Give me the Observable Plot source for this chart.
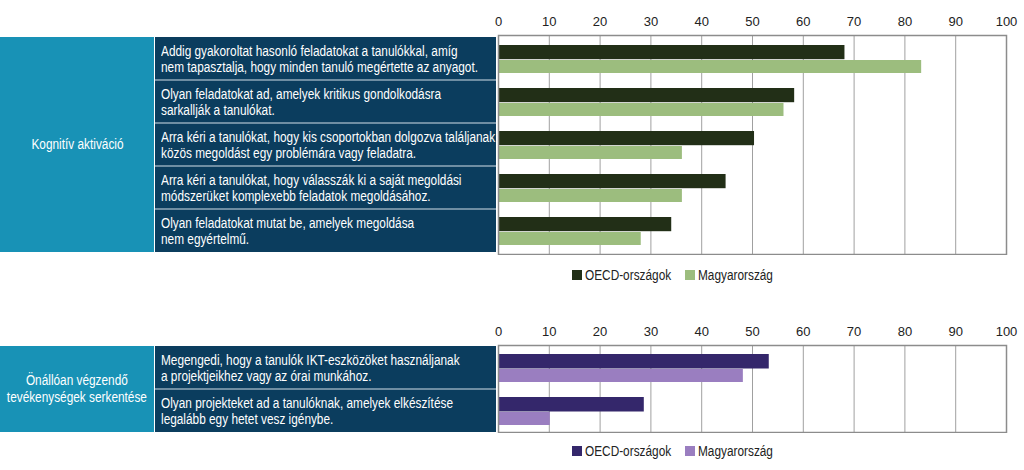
<!DOCTYPE html>
<html>
<head>
<meta charset="utf-8">
<script src="https://cdn.jsdelivr.net/npm/d3@7"></script>
<script src="https://cdn.jsdelivr.net/npm/@observablehq/plot@0.6"></script>
<style>
  html, body { margin: 0; padding: 0; background: #fff; }
  body { width: 1024px; height: 470px; overflow: hidden;
         font-family: "Liberation Sans", Arial, sans-serif; }
  .panel { position: relative; width: 1024px; }
  .panel svg { display: block; }
  .grp { position: absolute; left: 0; width: 154px; background: #1892b6; color: #fff;
         display: flex; align-items: center; justify-content: center; text-align: center;
         font-size: 14px; line-height: 17px; box-sizing: border-box; overflow: visible; }
  .grp span { display: inline-block; white-space: pre; transform: scaleX(0.845); transform-origin: center; }
  .cell { position: absolute; left: 155px; width: 341px; background: #0b3d5e; color: #fff;
          display: flex; align-items: center; padding-left: 6px; box-sizing: border-box;
          font-size: 14px; line-height: 16px; overflow: visible; }
  .cell span { display: inline-block; white-space: pre; transform: scaleX(0.845); transform-origin: left center; }
  .cell.sep { border-top: 2px solid #6f8ea3; }
  .legend { position: relative; height: 20px; font-size: 14px; color: #222; }
  .legend span.item { position: absolute; top: 0; display: flex; align-items: center; height: 20px; }
  .legend i { display: inline-block; width: 10px; height: 10px; margin-right: 3px; }
  .legend b { font-weight: normal; display: inline-block; white-space: pre; transform: scaleX(0.845); transform-origin: left center; }
</style>
</head>
<body>
<div id="root"></div>
<script>
// ---- data ----
const series = ["OECD-országok", "Magyarország"];
const xTicks = [0, 10, 20, 30, 40, 50, 60, 70, 80, 90, 100];

const group1 = "Kognitív aktiváció";
const items1 = [
  "Addig gyakoroltat hasonló feladatokat a tanulókkal, amíg\nnem tapasztalja, hogy minden tanuló megértette az anyagot.",
  "Olyan feladatokat ad, amelyek kritikus gondolkodásra\nsarkallják a tanulókat.",
  "Arra kéri a tanulókat, hogy kis csoportokban dolgozva találjanak\nközös megoldást egy problémára vagy feladatra.",
  "Arra kéri a tanulókat, hogy válasszák ki a saját megoldási\nmódszerüket komplexebb feladatok megoldásához.",
  "Olyan feladatokat mutat be, amelyek megoldása\nnem egyértelmű."
];
const oecd1 = [68.2, 58.3, 50.4, 44.8, 34.1];
const hun1 = [83.3, 56.2, 36.2, 36.2, 28.1];
const colors1 = ["#222f17", "#9cbd7e"];

const group2 = "Önállóan végzendő\ntevékenységek serkentése";
const items2 = [
  "Megengedi, hogy a tanulók IKT-eszközöket használjanak\na projektjeikhez vagy az órai munkához.",
  "Olyan projekteket ad a tanulóknak, amelyek elkészítése\nlegalább egy hetet vesz igénybe."
];
const oecd2 = [53.3, 28.7];
const hun2 = [48.2, 10.2];
const colors2 = ["#34276b", "#9a7ec0"];

// ---- drawing ----
const root = document.getElementById("root");

function textSpan(tag, text) {
  const s = document.createElement(tag);
  s.textContent = text;
  return s;
}

function panel({group, items, oecd, hun, colors, rowH, legendGap}) {
  const marginTop = 35, marginBottom = 1;
  const height = marginTop + rowH * items.length + marginBottom;
  const rows = items.flatMap((it, i) => [
    {item: it, series: series[0], value: oecd[i]},
    {item: it, series: series[1], value: hun[i]}
  ]);
  const bw = rowH;
  const darkTop = Math.round(bw * 0.18), mid = Math.round(bw * 0.525), lightBottom = Math.round(bw * 0.155);

  const chart = Plot.plot({
    width: 1024,
    height,
    marginLeft: 498,
    marginRight: 18,
    marginTop,
    marginBottom,
    style: {fontFamily: '"Liberation Sans", Arial, sans-serif', fontSize: "13px", color: "#222", background: "transparent"},
    x: {domain: [0, 100], axis: "top", ticks: xTicks, tickSize: 0, tickPadding: 10, tickFormat: d => String(d), label: null},
    y: {domain: items, axis: null, padding: 0},
    color: {domain: series, range: colors},
    marks: [
      Plot.ruleX(xTicks, {stroke: "#a0a0a0", strokeWidth: 1}),
      Plot.barX(rows.filter(d => d.series === series[0]), {y: "item", x: "value", fill: "series", insetTop: darkTop, insetBottom: bw - mid}),
      Plot.barX(rows.filter(d => d.series === series[1]), {y: "item", x: "value", fill: "series", insetTop: mid, insetBottom: lightBottom}),
      Plot.frame({stroke: "#8c8c8c", strokeWidth: 1.5})
    ]
  });

  const wrap = document.createElement("div");
  wrap.className = "panel";
  wrap.appendChild(chart);

  const y = chart.scale("y");
  const top0 = y.apply(items[0]);
  const bottom = y.apply(items[items.length - 1]) + y.bandwidth;

  const g = document.createElement("div");
  g.className = "grp";
  g.style.top = top0 + "px";
  g.style.height = (bottom - top0) + "px";
  g.appendChild(textSpan("span", group));
  wrap.appendChild(g);

  items.forEach((it, i) => {
    const c = document.createElement("div");
    c.className = "cell" + (i > 0 ? " sep" : "");
    const t = y.apply(it);
    c.style.top = (i > 0 ? t - 1 : t) + "px";
    c.style.height = (i > 0 ? y.bandwidth + 1 : y.bandwidth) + "px";
    c.appendChild(textSpan("span", it));
    wrap.appendChild(c);
  });
  root.appendChild(wrap);

  const lg = document.createElement("div");
  lg.className = "legend";
  lg.style.marginTop = legendGap + "px";
  const lefts = [572, 685];
  series.forEach((s, i) => {
    const sp = document.createElement("span");
    sp.className = "item";
    sp.style.left = lefts[i] + "px";
    const sw = document.createElement("i");
    sw.style.background = colors[i];
    sp.appendChild(sw);
    sp.appendChild(textSpan("b", s));
    lg.appendChild(sp);
  });
  root.appendChild(lg);
}

panel({group: group1, items: items1, oecd: oecd1, hun: hun1, colors: colors1, rowH: 43.8, legendGap: 10});
const spacer = document.createElement("div");
spacer.style.height = "25px";
root.appendChild(spacer);
panel({group: group2, items: items2, oecd: oecd2, hun: hun2, colors: colors2, rowH: 43.5, legendGap: 8});
</script>
</body>
</html>
